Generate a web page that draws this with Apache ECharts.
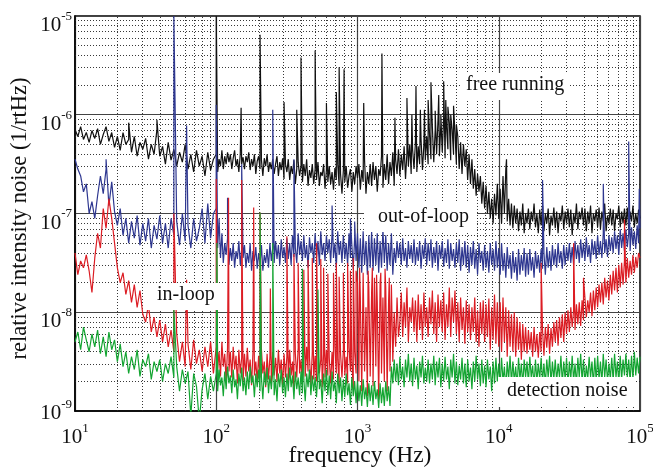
<!DOCTYPE html>
<html>
<head>
<meta charset="utf-8">
<script src="https://cdn.jsdelivr.net/npm/echarts@6/dist/echarts.min.js"></script>
<style>html,body{margin:0;padding:0;background:#fff}#c{width:653px;height:473px}</style>
</head>
<body>
<div id="c"></div>
<script>
// log10(frequency / Hz) of each sample
const freqExp = [
1.00,1.02,1.04,1.06,1.08,1.10,1.12,1.14,1.16,1.18,
1.20,1.22,1.24,1.26,1.28,1.30,1.32,1.34,1.36,1.38,
1.40,1.42,1.44,1.46,1.48,1.50,1.52,1.54,1.56,1.58,
1.60,1.62,1.64,1.66,1.68,1.70,1.72,1.74,1.76,1.78,
1.80,1.82,1.84,1.86,1.88,1.90,1.92,1.94,1.96,1.98,
2.00,2.01,2.02,2.03,2.04,2.05,2.06,2.07,2.08,2.09,
2.10,2.11,2.12,2.13,2.14,2.15,2.16,2.17,2.18,2.19,
2.20,2.21,2.22,2.23,2.24,2.25,2.26,2.27,2.28,2.29,
2.30,2.31,2.32,2.33,2.34,2.35,2.36,2.37,2.38,2.39,
2.40,2.41,2.42,2.43,2.44,2.45,2.46,2.47,2.48,2.49,
2.50,2.51,2.52,2.53,2.54,2.55,2.56,2.57,2.58,2.59,
2.60,2.61,2.62,2.63,2.64,2.65,2.66,2.67,2.68,2.69,
2.70,2.71,2.72,2.73,2.74,2.75,2.76,2.77,2.78,2.79,
2.80,2.81,2.82,2.83,2.84,2.85,2.86,2.87,2.88,2.89,
2.90,2.91,2.92,2.93,2.94,2.95,2.96,2.97,2.98,2.99,
3.00,3.01,3.02,3.03,3.04,3.05,3.06,3.07,3.08,3.09,
3.10,3.11,3.12,3.13,3.14,3.15,3.16,3.17,3.18,3.19,
3.20,3.21,3.22,3.23,3.24,3.25,3.26,3.27,3.28,3.29,
3.30,3.31,3.32,3.33,3.34,3.35,3.36,3.37,3.38,3.39,
3.40,3.41,3.42,3.43,3.44,3.45,3.46,3.47,3.48,3.49,
3.50,3.51,3.52,3.53,3.54,3.55,3.56,3.57,3.58,3.59,
3.60,3.61,3.62,3.63,3.64,3.65,3.66,3.67,3.68,3.69,
3.70,3.71,3.72,3.73,3.74,3.75,3.76,3.77,3.78,3.79,
3.80,3.81,3.82,3.83,3.84,3.85,3.86,3.87,3.88,3.89,
3.90,3.91,3.92,3.93,3.94,3.95,3.96,3.97,3.98,3.99,
4.00,4.01,4.02,4.03,4.04,4.05,4.06,4.07,4.08,4.09,
4.10,4.11,4.12,4.13,4.14,4.15,4.16,4.17,4.18,4.19,
4.20,4.21,4.22,4.23,4.24,4.25,4.26,4.27,4.28,4.29,
4.30,4.31,4.32,4.33,4.34,4.35,4.36,4.37,4.38,4.39,
4.40,4.41,4.42,4.43,4.44,4.45,4.46,4.47,4.48,4.49,
4.50,4.51,4.52,4.53,4.54,4.55,4.56,4.57,4.58,4.59,
4.60,4.61,4.62,4.63,4.64,4.65,4.66,4.67,4.68,4.69,
4.70,4.71,4.72,4.73,4.74,4.75,4.76,4.77,4.78,4.79,
4.80,4.81,4.82,4.83,4.84,4.85,4.86,4.87,4.88,4.89,
4.90,4.91,4.92,4.93,4.94,4.95,4.96,4.97,4.98,4.99,
5.00];

// log10 of relative intensity noise (1/rtHz), one value per sample above
const freeRunning = [
-6.15,-6.22,-6.12,-6.25,-6.18,-6.28,-6.16,-6.24,-6.14,-6.30,
-6.20,-6.12,-6.27,-6.18,-6.33,-6.22,-6.36,-6.18,-6.30,-6.25,
-6.38,-6.22,-6.42,-6.28,-6.35,-6.24,-6.45,-6.30,-6.40,-6.15,
-6.42,-6.32,-6.50,-6.28,-6.46,-6.35,-6.52,-6.38,-6.48,-6.30,
-6.55,-6.40,-6.58,-6.36,-6.52,-6.42,-6.62,-6.38,-6.56,-6.45,
-6.40,-6.58,-6.45,-6.52,-6.36,-6.55,-6.42,-6.50,-6.38,-6.48,
-6.40,-6.55,-6.44,-6.36,-6.52,-6.45,-6.58,-6.40,-6.50,-6.43,
-6.55,-6.42,-6.48,-6.38,-6.56,-6.45,-6.52,-6.40,-6.60,-6.47,
-6.42,-6.55,-6.46,-6.62,-6.44,-6.52,-6.40,-6.58,-6.48,-6.55,
-6.45,-6.60,-6.50,-6.42,-6.62,-6.48,-6.56,-6.44,-6.65,-6.50,
-6.58,-6.45,-6.66,-6.52,-6.60,-6.46,-6.70,-6.55,-6.48,-6.62,
-6.52,-6.68,-6.50,-6.62,-6.45,-6.72,-6.56,-6.64,-6.50,-6.70,
-6.55,-6.66,-6.48,-6.72,-6.58,-6.62,-6.50,-6.75,-6.56,-6.68,
-6.52,-6.70,-6.58,-6.76,-6.54,-6.66,-6.50,-6.72,-6.60,-6.80,
-6.56,-6.68,-6.52,-6.74,-6.62,-6.55,-6.78,-6.58,-6.70,-6.52,
-6.64,-6.50,-6.76,-6.56,-6.68,-6.46,-6.80,-6.58,-6.70,-6.50,
-6.72,-6.48,-6.66,-6.52,-6.78,-6.55,-6.62,-6.42,-6.74,-6.50,
-6.66,-6.40,-6.70,-6.48,-6.62,-6.38,-6.72,-6.45,-6.60,-6.35,
-6.62,-6.40,-6.56,-6.32,-6.65,-6.38,-6.52,-6.30,-6.60,-6.35,
-6.55,-6.28,-6.58,-6.32,-6.50,-6.25,-6.56,-6.30,-6.46,-6.22,
-6.50,-6.20,-6.45,-6.12,-6.48,-6.15,-6.40,-6.05,-6.42,-6.10,
-6.38,-6.02,-6.44,-6.12,-6.35,-6.08,-6.46,-6.15,-6.40,-6.18,
-6.50,-6.22,-6.55,-6.28,-6.60,-6.30,-6.52,-6.35,-6.66,-6.40,
-6.70,-6.45,-6.75,-6.55,-6.82,-6.60,-6.78,-6.62,-6.90,-6.68,
-6.95,-6.72,-7.00,-6.78,-7.05,-6.85,-7.10,-6.80,-7.02,-6.70,
-7.05,-6.75,-7.10,-6.62,-7.00,-6.55,-7.08,-6.85,-7.12,-6.90,
-7.15,-6.92,-7.10,-6.95,-7.18,-6.98,-7.12,-6.90,-7.20,-7.00,
-7.10,-6.95,-7.16,-6.98,-7.08,-6.90,-7.14,-7.00,-7.20,-6.96,
-7.12,-6.92,-7.18,-7.00,-7.10,-6.95,-7.22,-7.02,-7.12,-6.94,
-7.15,-6.98,-7.20,-7.00,-7.08,-6.92,-7.16,-6.98,-7.10,-6.95,
-7.14,-6.96,-7.22,-7.00,-7.10,-6.90,-7.16,-6.98,-7.06,-6.94,
-7.12,-6.95,-7.18,-6.98,-7.10,-6.92,-7.20,-7.00,-7.08,-6.96,
-7.14,-6.94,-7.16,-6.98,-7.08,-6.90,-7.18,-7.02,-7.10,-6.95,
-7.12,-6.96,-7.18,-7.00,-7.06,-6.92,-7.14,-6.98,-7.10,-6.95,
-7.12,-6.94,-7.16,-6.98,-7.08,-6.92,-7.14,-7.00,-7.10,-6.96,
-7.05];

const outOfLoop = [
-6.45,-6.55,-6.62,-6.78,-6.70,-7.00,-6.88,-7.05,-6.82,-6.62,
-6.80,-6.55,-6.92,-6.68,-6.98,-7.12,-6.95,-7.22,-7.05,-7.30,
-7.08,-7.25,-7.02,-7.32,-7.10,-7.28,-7.05,-7.35,-7.12,-7.26,
-7.02,-7.30,-7.10,-7.35,-7.05,-7.22,-7.08,-7.32,-7.00,-7.28,
-7.12,-7.35,-7.05,-7.28,-7.15,-6.95,-7.30,-6.90,-7.25,-7.00,
-6.95,-7.35,-7.05,-7.45,-7.20,-7.50,-7.30,-7.42,-7.25,-7.52,
-7.35,-7.48,-7.30,-7.55,-7.38,-7.46,-7.28,-7.52,-7.36,-7.45,
-7.32,-7.55,-7.40,-7.50,-7.30,-7.58,-7.38,-7.48,-7.34,-7.56,
-7.40,-7.52,-7.32,-7.58,-7.42,-7.50,-7.36,-7.55,-7.30,-7.48,
-7.35,-7.50,-7.28,-7.46,-7.32,-7.52,-7.26,-7.45,-7.34,-7.50,
-7.25,-7.46,-7.30,-7.52,-7.22,-7.44,-7.35,-7.50,-7.20,-7.42,
-7.28,-7.48,-7.22,-7.45,-7.32,-7.55,-7.24,-7.40,-7.30,-7.50,
-7.20,-7.44,-7.28,-7.52,-7.18,-7.42,-7.30,-7.48,-7.22,-7.40,
-7.26,-7.50,-7.20,-7.45,-7.30,-7.55,-7.18,-7.42,-7.28,-7.50,
-7.22,-7.46,-7.30,-7.52,-7.20,-7.45,-7.32,-7.56,-7.24,-7.48,
-7.20,-7.55,-7.25,-7.60,-7.18,-7.52,-7.28,-7.62,-7.22,-7.55,
-7.18,-7.58,-7.25,-7.52,-7.20,-7.60,-7.28,-7.55,-7.16,-7.50,
-7.22,-7.58,-7.30,-7.52,-7.20,-7.62,-7.35,-7.50,-7.28,-7.45,
-7.30,-7.52,-7.25,-7.48,-7.35,-7.55,-7.28,-7.46,-7.32,-7.50,
-7.26,-7.52,-7.34,-7.48,-7.28,-7.56,-7.32,-7.46,-7.25,-7.52,
-7.30,-7.48,-7.26,-7.55,-7.34,-7.50,-7.28,-7.58,-7.32,-7.46,
-7.28,-7.54,-7.35,-7.50,-7.26,-7.56,-7.30,-7.48,-7.36,-7.55,
-7.30,-7.50,-7.26,-7.58,-7.34,-7.52,-7.28,-7.55,-7.32,-7.60,
-7.34,-7.52,-7.28,-7.56,-7.36,-7.62,-7.30,-7.50,-7.38,-7.58,
-7.32,-7.55,-7.38,-7.60,-7.30,-7.52,-7.36,-7.58,-7.28,-7.55,
-7.35,-7.62,-7.30,-7.58,-7.40,-7.65,-7.34,-7.56,-7.42,-7.66,
-7.38,-7.60,-7.44,-7.68,-7.36,-7.62,-7.42,-7.58,-7.35,-7.64,
-7.40,-7.62,-7.36,-7.58,-7.44,-7.65,-7.38,-7.56,-7.42,-7.60,
-7.36,-7.56,-7.40,-7.62,-7.34,-7.55,-7.38,-7.58,-7.32,-7.52,
-7.36,-7.55,-7.30,-7.50,-7.38,-7.56,-7.32,-7.52,-7.34,-7.48,
-7.30,-7.50,-7.34,-7.52,-7.28,-7.46,-7.32,-7.50,-7.26,-7.45,
-7.30,-7.48,-7.24,-7.44,-7.32,-7.50,-7.26,-7.42,-7.28,-7.46,
-7.22,-7.42,-7.28,-7.45,-7.20,-7.40,-7.26,-7.44,-7.22,-7.38,
-7.24,-7.40,-7.18,-7.36,-7.22,-7.42,-7.16,-7.35,-7.20,-7.38,
-7.16,-7.34,-7.20,-7.38,-7.14,-7.32,-7.18,-7.36,-7.12,-7.30,
-7.15];

const inLoop = [
-7.40,-7.62,-7.48,-7.55,-7.42,-7.58,-7.80,-7.45,-7.20,-7.35,
-6.95,-7.15,-6.85,-7.05,-7.30,-7.55,-7.70,-7.60,-7.82,-7.68,
-7.90,-7.72,-7.95,-7.78,-8.02,-8.10,-7.92,-8.20,-8.05,-8.25,
-8.08,-8.30,-8.12,-8.35,-8.18,-8.40,-8.22,-8.50,-8.30,-8.55,
-8.32,-8.58,-8.28,-8.52,-8.38,-8.60,-8.35,-8.55,-8.30,-8.62,
-8.35,-8.58,-8.40,-8.65,-8.30,-8.55,-8.42,-8.70,-8.36,-8.60,
-8.40,-8.66,-8.35,-8.58,-8.44,-8.72,-8.38,-8.62,-8.46,-8.70,
-8.42,-8.65,-8.36,-8.60,-8.48,-8.74,-8.40,-8.64,-8.50,-8.70,
-8.44,-8.66,-8.38,-8.62,-8.50,-8.76,-8.42,-8.68,-8.45,-8.72,
-8.40,-8.64,-8.46,-8.70,-8.38,-8.62,-8.48,-8.75,-8.42,-8.66,
-8.45,-8.70,-8.38,-8.64,-8.50,-8.78,-8.42,-8.66,-8.36,-8.62,
-8.48,-8.72,-8.40,-8.65,-8.35,-8.60,-8.46,-8.74,-8.40,-8.68,
-8.44,-8.70,-8.36,-8.62,-8.48,-8.76,-8.42,-8.66,-8.38,-8.64,
-8.46,-8.72,-8.40,-8.68,-8.35,-8.62,-8.48,-8.75,-8.42,-8.66,
-8.38,-8.64,-8.45,-8.72,-8.36,-8.60,-8.50,-8.78,-8.40,-8.62,
-7.70,-8.70,-7.85,-8.80,-7.60,-8.60,-7.95,-8.85,-7.75,-8.65,
-7.80,-8.75,-7.65,-8.55,-7.90,-8.88,-7.70,-8.62,-7.85,-8.70,
-7.75,-8.80,-7.90,-8.60,-7.72,-8.50,-8.00,-8.35,-7.85,-8.25,
-8.10,-7.80,-8.25,-7.90,-8.15,-7.75,-8.30,-7.95,-8.10,-7.85,
-8.20,-7.88,-8.30,-7.82,-8.18,-7.92,-8.28,-7.80,-8.15,-7.95,
-8.25,-7.85,-8.12,-7.78,-8.22,-7.90,-8.30,-7.82,-8.15,-7.88,
-8.20,-7.80,-8.28,-7.92,-8.15,-7.75,-8.25,-7.85,-8.10,-7.78,
-8.22,-7.90,-8.30,-7.85,-8.18,-7.95,-8.32,-7.88,-8.20,-7.92,
-8.28,-7.95,-8.20,-7.85,-8.30,-7.98,-8.35,-7.90,-8.22,-7.88,
-8.30,-7.92,-8.25,-7.86,-8.38,-7.95,-8.28,-7.82,-8.32,-7.90,
-8.35,-7.90,-8.40,-7.85,-8.30,-7.95,-8.45,-7.98,-8.35,-8.02,
-8.40,-8.00,-8.45,-8.05,-8.38,-8.10,-8.48,-8.12,-8.40,-8.15,
-8.42,-8.18,-8.38,-8.20,-8.45,-8.15,-8.40,-8.22,-8.46,-8.20,
-8.40,-8.18,-8.44,-8.15,-8.36,-8.12,-8.42,-8.16,-8.35,-8.10,
-8.30,-8.08,-8.34,-8.05,-8.26,-8.02,-8.30,-8.00,-8.22,-7.98,
-8.20,-7.95,-8.15,-7.98,-8.18,-7.92,-8.12,-7.90,-8.14,-7.88,
-8.08,-7.85,-8.05,-7.88,-8.00,-7.80,-8.04,-7.78,-7.98,-7.75,
-7.95,-7.72,-7.90,-7.70,-7.92,-7.65,-7.85,-7.68,-7.88,-7.62,
-7.82,-7.58,-7.78,-7.55,-7.80,-7.52,-7.75,-7.50,-7.72,-7.48,
-7.70,-7.45,-7.65,-7.48,-7.62,-7.42,-7.60,-7.44,-7.55,-7.40,
-7.45];

const detectionNoise = [
-8.30,-8.20,-8.38,-8.15,-8.28,-8.40,-8.22,-8.35,-8.18,-8.42,
-8.25,-8.45,-8.20,-8.38,-8.28,-8.50,-8.32,-8.55,-8.40,-8.62,
-8.45,-8.58,-8.38,-8.65,-8.48,-8.55,-8.42,-8.68,-8.50,-8.60,
-8.48,-8.70,-8.52,-8.62,-8.45,-8.66,-8.55,-8.80,-8.58,-8.72,
-8.60,-9.05,-8.62,-8.75,-9.10,-8.78,-8.62,-8.88,-8.65,-8.80,
-8.62,-8.80,-8.58,-8.74,-8.66,-8.85,-8.60,-8.78,-8.55,-8.72,
-8.64,-8.82,-8.58,-8.76,-8.68,-8.88,-8.62,-8.75,-8.56,-8.80,
-8.66,-8.84,-8.60,-8.78,-8.55,-8.72,-8.64,-8.86,-8.62,-8.76,
-8.58,-8.80,-8.66,-8.88,-8.60,-8.74,-8.56,-8.82,-8.64,-8.78,
-8.60,-8.84,-8.68,-8.90,-8.62,-8.76,-8.58,-8.82,-8.66,-8.86,
-8.62,-8.80,-8.56,-8.76,-8.64,-8.88,-8.60,-8.78,-8.66,-8.84,
-8.60,-8.82,-8.68,-8.90,-8.62,-8.76,-8.58,-8.84,-8.64,-8.80,
-8.66,-8.86,-8.60,-8.78,-8.68,-8.92,-8.62,-8.80,-8.58,-8.84,
-8.64,-8.88,-8.60,-8.80,-8.70,-8.92,-8.62,-8.82,-8.66,-8.90,
-8.68,-8.86,-8.62,-8.84,-8.72,-8.94,-8.66,-8.85,-8.70,-8.92,
-8.70,-8.90,-8.74,-8.95,-8.68,-8.88,-8.76,-8.96,-8.72,-8.90,
-8.74,-8.94,-8.70,-8.88,-8.78,-8.97,-8.72,-8.92,-8.76,-8.95,
-8.70,-8.90,-8.75,-8.95,-8.55,-8.72,-8.48,-8.70,-8.52,-8.74,
-8.45,-8.68,-8.55,-8.76,-8.48,-8.66,-8.42,-8.70,-8.52,-8.75,
-8.46,-8.68,-8.54,-8.78,-8.50,-8.66,-8.44,-8.72,-8.56,-8.70,
-8.48,-8.72,-8.52,-8.68,-8.44,-8.74,-8.50,-8.66,-8.46,-8.76,
-8.52,-8.70,-8.45,-8.68,-8.55,-8.78,-8.48,-8.66,-8.42,-8.72,
-8.50,-8.74,-8.54,-8.68,-8.46,-8.72,-8.52,-8.76,-8.48,-8.70,
-8.56,-8.78,-8.50,-8.70,-8.44,-8.68,-8.52,-8.75,-8.48,-8.72,
-8.54,-8.76,-8.48,-8.68,-8.55,-8.80,-8.50,-8.72,-8.46,-8.70,
-8.52,-8.74,-8.46,-8.70,-8.55,-8.78,-8.50,-8.68,-8.44,-8.72,
-8.50,-8.70,-8.55,-8.76,-8.46,-8.68,-8.52,-8.74,-8.48,-8.66,
-8.50,-8.72,-8.45,-8.66,-8.54,-8.76,-8.48,-8.70,-8.52,-8.68,
-8.46,-8.70,-8.52,-8.74,-8.48,-8.66,-8.44,-8.72,-8.50,-8.68,
-8.48,-8.70,-8.52,-8.66,-8.44,-8.72,-8.50,-8.68,-8.46,-8.74,
-8.50,-8.68,-8.44,-8.70,-8.52,-8.74,-8.46,-8.66,-8.42,-8.70,
-8.48,-8.72,-8.54,-8.68,-8.45,-8.66,-8.50,-8.74,-8.46,-8.70,
-8.44,-8.68,-8.50,-8.72,-8.42,-8.66,-8.48,-8.70,-8.52,-8.68,
-8.46,-8.70,-8.42,-8.66,-8.50,-8.72,-8.44,-8.68,-8.48,-8.64,
-8.42,-8.66,-8.48,-8.70,-8.44,-8.68,-8.40,-8.64,-8.46,-8.62,
-8.45];

// narrow spectral lines: [log10(f), log10(peak value)]
const freeSpikes = [
[1.38,-6.08],[1.58,-6.05],[2.00,-5.00],[2.176,-5.93],[2.31,-5.19],[2.48,-5.87],
[2.57,-5.95],[2.60,-5.42],[2.70,-5.35],[2.78,-5.88],[2.85,-5.77],[2.87,-5.52],
[2.905,-5.54],[3.044,-5.88],[3.173,-5.38],[3.265,-6.03],[3.35,-5.83],[3.385,-6.0],
[3.414,-5.71],[3.445,-5.95],[3.474,-5.95],[3.50,-5.85],[3.52,-5.67],[3.55,-5.96],
[3.575,-5.8],[3.59,-6.0],[3.61,-5.66],[3.625,-5.85],[3.64,-5.92],[3.66,-6.0],
[3.68,-5.91],[3.70,-6.1],[4.055,-6.45]];
const outSpikes = [
[1.22,-6.45],[1.70,-5.00],[1.79,-6.11],[2.00,-5.90],[2.08,-6.84],[2.18,-6.50],
[2.40,-5.95],[2.55,-6.45],[2.82,-6.92],[2.95,-7.05],[2.98,-7.08],[4.31,-6.66],
[4.74,-6.70],[4.92,-6.27],[4.995,-6.75]];
const inSpikes = [
[1.70,-7.00],[1.79,-7.67],[2.00,-6.65],[2.087,-6.84],[2.18,-6.66],[2.265,-6.94],
[2.31,-6.99],[2.383,-7.76],[2.50,-7.23],[2.55,-7.41],[2.58,-7.50],[2.62,-7.57],
[2.65,-7.47],[2.68,-7.45],[2.71,-7.30],[2.74,-7.46],[2.76,-7.55],[2.79,-7.61],
[2.83,-7.60],[2.85,-7.50],[2.87,-7.64],[2.90,-7.60],[2.93,-7.50],[2.95,-7.58],
[2.97,-7.45],[2.99,-7.58],[3.015,-7.55],[3.045,-7.60],[3.075,-7.58],[3.105,-7.55],
[3.135,-7.62],[3.165,-7.60],[3.195,-7.56],[3.225,-7.65],[4.30,-7.50],[4.53,-7.30],
[4.60,-7.65],[4.89,-7.06]];
const detSpikes = [
[1.70,-7.97],[2.005,-7.30],[2.31,-6.99],[2.40,-7.30],[2.61,-7.56],[2.72,-7.77]];

const xTickExp = [1, 2, 3, 4, 5];
const yTickExp = [-9, -8, -7, -6, -5];
const minorMult = [2, 3, 4, 5, 6, 7, 8, 9];

const seriesNames = ['free running', 'out-of-loop', 'in-loop', 'detection noise'];
const seriesColors = ['#111111', '#2e3790', '#dc1d24', '#14a532'];

function build(values, spikes) {
  const pts = [];
  const n = Math.min(freqExp.length, values.length);
  for (let i = 0; i < n; i++) pts.push([freqExp[i], values[i], 0]);
  spikes.forEach(s => pts.push([s[0], s[1], 1]));
  pts.sort((a, b) => a[0] - b[0] || a[2] - b[2]);
  return pts.map(p => [Math.pow(10, p[0]), Math.pow(10, p[1])]);
}

const SERIF = '"Liberation Serif","DejaVu Serif",serif';
const xMin = Math.pow(10, xTickExp[0]), xMax = Math.pow(10, xTickExp[xTickExp.length - 1]);
const yMin = Math.pow(10, yTickExp[0]), yMax = Math.pow(10, yTickExp[yTickExp.length - 1]);
const minorLines = [];
for (let e = xTickExp[0]; e < xTickExp[xTickExp.length - 1]; e++)
  minorMult.forEach(m => minorLines.push([{ coord: [m * Math.pow(10, e), yMin] }, { coord: [m * Math.pow(10, e), yMax] }]));
for (let e = yTickExp[0]; e < yTickExp[yTickExp.length - 1]; e++)
  minorMult.forEach(m => minorLines.push([{ coord: [xMin, m * Math.pow(10, e)] }, { coord: [xMax, m * Math.pow(10, e)] }]));

const richTok = {
  b: { fontFamily: SERIF, fontSize: 21, color: '#111', lineHeight: 26, verticalAlign: 'bottom' },
  s: { fontFamily: SERIF, fontSize: 13, color: '#111', lineHeight: 12, verticalAlign: 'top' },
  e: { fontSize: 1, lineHeight: 14 }
};

const chart = echarts.init(document.getElementById('c'), null, { renderer: 'canvas' });
const dataSets = [
  build(freeRunning, freeSpikes),
  build(outOfLoop, outSpikes),
  build(inLoop, inSpikes),
  build(detectionNoise, detSpikes)
];

const series = [{
  type: 'line', name: 'grid', data: [[xMin, yMin]], silent: true, z: 1, symbol: 'none',
  lineStyle: { opacity: 0 },
  markLine: {
    silent: true, symbol: 'none', z: 1, animation: false,
    label: { show: false },
    lineStyle: { type: [1, 2], color: '#222', width: 1, opacity: 0.9 },
    emphasis: { disabled: true },
    data: minorLines
  }
}];
dataSets.forEach((d, i) => series.push({
  type: 'line', name: seriesNames[i], data: d, showSymbol: false, symbol: 'none',
  z: 3 + i, clip: true, animation: false, silent: true,
  lineStyle: { color: seriesColors[i], width: 1.2 }
}));

chart.setOption({
  animation: false,
  grid: {
    left: 75, right: 13, top: 16, bottom: 62, containLabel: false, outerBoundsMode: 'none',
    show: true, borderColor: '#000', borderWidth: 1.5, backgroundColor: '#fff'
  },
  xAxis: {
    type: 'log', logBase: 10, min: xMin, max: xMax,
    name: 'frequency (Hz)', nameLocation: 'middle', nameGap: 45, nameMoveOverlap: false,
    nameTextStyle: { fontFamily: SERIF, fontSize: 23.5, color: '#111', verticalAlign: 'middle', padding: [0, 0, 0, 5] },
    axisLine: { show: true, lineStyle: { color: '#000', width: 1.5 } },
    axisTick: { show: false },
    splitLine: { show: true, lineStyle: { color: '#444', width: 1.2 } },
    axisLabel: {
      margin: 11, verticalAlign: 'top',
      formatter: v => '{b|10}{s|' + Math.round(Math.log10(v)) + '}',
      rich: richTok
    }
  },
  yAxis: {
    type: 'log', logBase: 10, min: yMin, max: yMax,
    name: 'relative intensity noise (1/rtHz)', nameLocation: 'middle', nameGap: 55, nameRotate: 90, nameMoveOverlap: false,
    nameTextStyle: { fontFamily: SERIF, fontSize: 22.5, color: '#111', verticalAlign: 'middle', padding: [0, 10, 0, 0] },
    axisLine: { show: true, lineStyle: { color: '#000', width: 1.5 } },
    axisTick: { show: false },
    splitLine: { show: true, lineStyle: { color: '#444', width: 1.2 } },
    axisLabel: {
      margin: 3, padding: [14, 0, 0, 0],
      formatter: v => {
        const e = Math.round(Math.log10(v));
        return e === yTickExp[0] ? '{b|10}{s|' + e + '}\n{e| }' : '{b|10}{s|' + e + '}';
      },
      rich: richTok
    }
  },
  series: series,
  graphic: [
    { type: 'rect', left: 460, top: 73, shape: { width: 108, height: 27 }, style: { fill: '#fff' }, z: 100 },
    { type: 'text', left: 466, top: 75, style: { text: 'free running', font: '20px ' + SERIF, fill: '#111' }, z: 101 },
    { type: 'rect', left: 364, top: 203, shape: { width: 113, height: 29 }, style: { fill: '#fff' }, z: 100 },
    { type: 'text', left: 378, top: 207, style: { text: 'out-of-loop', font: '20px ' + SERIF, fill: '#111' }, z: 101 },
    { type: 'rect', left: 145, top: 283, shape: { width: 77, height: 27 }, style: { fill: '#fff' }, z: 100 },
    { type: 'text', left: 157, top: 285, style: { text: 'in-loop', font: '20px ' + SERIF, fill: '#111' }, z: 101 },
    { type: 'rect', left: 498, top: 377, shape: { width: 138, height: 30 }, style: { fill: '#fff' }, z: 100 },
    { type: 'text', left: 507, top: 381, style: { text: 'detection noise', font: '20px ' + SERIF, fill: '#111' }, z: 101 }
  ]
});
</script>
</body>
</html>
